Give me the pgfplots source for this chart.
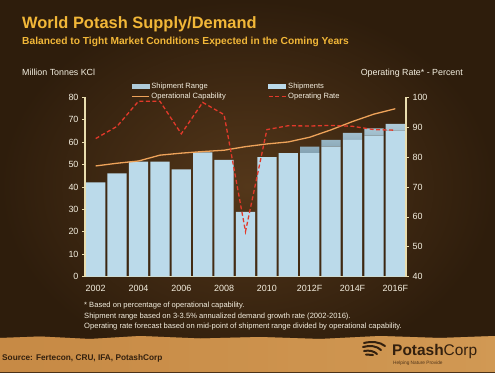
\documentclass[border=0pt]{standalone}
\usepackage{pgfplots}
\pgfplotsset{compat=1.18}
\usepackage{fontspec}
\setmainfont{Liberation Sans}
\definecolor{bgdark}{HTML}{2E1D0C}
\definecolor{bgmid}{HTML}{54371A}
\definecolor{tan}{HTML}{C78A45}
\definecolor{tanlight}{HTML}{D8A35E}
\definecolor{gold}{HTML}{F2B738}
\definecolor{cream}{HTML}{F4EFE0}
\definecolor{axiscol}{HTML}{E9DDAE}
\definecolor{barcol}{HTML}{BBDAEA}
\definecolor{rangetop}{HTML}{AFCBD9}
\definecolor{rangebot}{HTML}{84A2B2}
\definecolor{capcol}{HTML}{EEA35A}
\definecolor{ratecol}{HTML}{E2392A}
\definecolor{logobrown}{HTML}{33200E}

\pgfplotstableread{
year ship range cap rate
2002 42.1 0   49.4 86.2
2003 46.1 0   50.6 90.3
2004 51.3 0   51.6 98.7
2005 51.3 0   54.2 98.7
2006 47.9 0   55.1 87.8
2007 55.4 0   55.8 98.3
2008 52.1 0   56.4 94.2
2009 28.9 0   58.0 55.1
2010 53.3 0   59.2 89.2
2011 55.1 0   60.1 90.5
2012 55.1 2.9 62.2 90.4
2013 58.0 3.0 65.5 90.6
2014 61.0 3.1 69.2 90.3
2015 62.9 3.2 72.5 89.2
2016 65.2 3.0 74.9 89.0
}\datatable

\pgfplotsset{
  common/.style={
    at={(85bp,95.3bp)}, anchor=south west, scale only axis,
    width=321bp, height=179.4bp,
    xmin=2001.5, xmax=2016.5,
    axis line style={draw=axiscol, line width=1.2bp},
    tick style={draw=axiscol, line width=0.8bp},
    tick align=outside, major tick length=3bp,
    ticklabel style={font=\fontsize{9}{10}\selectfont, text=cream},
    /pgf/number format/assume math mode=true,
  }
}

\begin{document}
\begin{tikzpicture}[x=1bp,y=1bp]
% background
\shade[inner color=bgmid, outer color=bgdark] (0,0) rectangle (495,372);
\fill[tan] (0,0) -- (0,34) -- (40,35.5) -- (90,33) -- (140,36) -- (200,33.5) -- (260,35) -- (320,33) -- (380,36) -- (440,34) -- (495,36) -- (495,0) -- cycle;
\shade[left color=tan, right color=tanlight, opacity=0.6] (0,0) -- (0,34) -- (40,35.5) -- (90,33) -- (140,36) -- (200,33.5) -- (260,35) -- (320,33) -- (380,36) -- (440,34) -- (495,36) -- (495,0) -- cycle;

% titles
\node[anchor=base west, inner sep=0, text=gold, font=\fontsize{16.5}{18}\selectfont\bfseries] at (22,344) {World Potash Supply/Demand};
\node[anchor=base west, inner sep=0, text=gold, font=\fontsize{10.25}{12}\selectfont\bfseries] at (22,328) {Balanced to Tight Market Conditions Expected in the Coming Years};
\node[anchor=base west, inner sep=0, text=cream, font=\fontsize{8.9}{10}\selectfont] at (22,297) {Million Tonnes KCl};
\node[anchor=base east, inner sep=0, text=cream, font=\fontsize{8.9}{10}\selectfont] at (463,297) {Operating Rate* - Percent};

% bars
\begin{axis}[common,
  ybar stacked, bar width=0.9,
  ymin=0, ymax=80, ytick={0,10,...,80},
  axis y line*=left, axis x line*=bottom,
  xtick={2002,2004,...,2016},
  xticklabels={2002,2004,2006,2008,2010,2012F,2014F,2016F},
  x tick style={draw=none},
  xticklabel style={yshift=-2bp},
]
\addplot[fill=barcol, draw=none] table[x=year, y=ship] {\datatable};
\addplot[top color=rangetop, bottom color=rangebot, draw=none] table[x=year, y=range] {\datatable};
\end{axis}

% capability line
\begin{axis}[common, ymin=0, ymax=80, hide axis]
\addplot[capcol, line width=1.3bp, mark=none] table[x=year, y=cap] {\datatable};
\end{axis}

% operating rate
\begin{axis}[common, ymin=40, ymax=100, ytick={40,50,...,100},
  axis y line*=right, axis x line=none,
  legend columns=2,
  legend cell align=left,
  legend style={at={(0.143,1.093)}, anchor=north west, draw=none, fill=none,
    font=\fontsize{7.6}{9}\selectfont, text=cream, inner sep=0pt,
    row sep=-1bp,
    /tikz/column 2/.style={column sep=40bp}},
]
\addlegendimage{legend image code/.code={\fill[rangetop] (0bp,-2.2bp) rectangle (17bp,2.2bp);}}
\addlegendentry{Shipment Range}
\addlegendimage{legend image code/.code={\fill[barcol] (0bp,-2.2bp) rectangle (17bp,2.2bp);}}
\addlegendentry{Shipments}
\addlegendimage{capcol, line width=1.3bp}
\addlegendentry{Operational Capability}
\addplot[ratecol, line width=1.3bp, dash pattern=on 4bp off 2.5bp, mark=none] table[x=year, y=rate] {\datatable};
\addlegendentry{Operating Rate}
\end{axis}

% footnotes
\node[anchor=base west, inner sep=0, text=cream, font=\fontsize{7.6}{9}\selectfont] at (84,64.5) {* Based on percentage of operational capability.};
\node[anchor=base west, inner sep=0, text=cream, font=\fontsize{7.6}{9}\selectfont] at (84,54) {Shipment range based on 3-3.5\% annualized demand growth rate (2002-2016).};
\node[anchor=base west, inner sep=0, text=cream, font=\fontsize{7.6}{9}\selectfont] at (84,44) {Operating rate forecast based on mid-point of shipment range divided by operational capability.};

% source
\node[anchor=base west, inner sep=0, text=logobrown, font=\fontsize{8.3}{10}\selectfont\bfseries] at (2,12) {Source: Fertecon, CRU, IFA, PotashCorp};

% logo
\begin{scope}[logobrown, line width=2bp, line cap=round]
\draw (364,29) .. controls (372,31) and (380,30) .. (385,26);
\draw (363,25) .. controls (370,27) and (377,26) .. (381,22);
\draw (364,21) .. controls (369,22) and (374,21) .. (377,18);
\draw (366,17.5) -- (373,17);
\end{scope}
\node[anchor=base west, inner sep=0, text=logobrown, font=\fontsize{15.5}{17}\selectfont] at (392,17) {\textbf{Potash}Corp};
\node[anchor=base west, inner sep=0, text=logobrown!80!tan, font=\fontsize{4.8}{6}\selectfont] at (393,8) {Helping Nature Provide};

\pgfresetboundingbox
\path (0,0) rectangle (495,372);
\end{tikzpicture}
\end{document}
